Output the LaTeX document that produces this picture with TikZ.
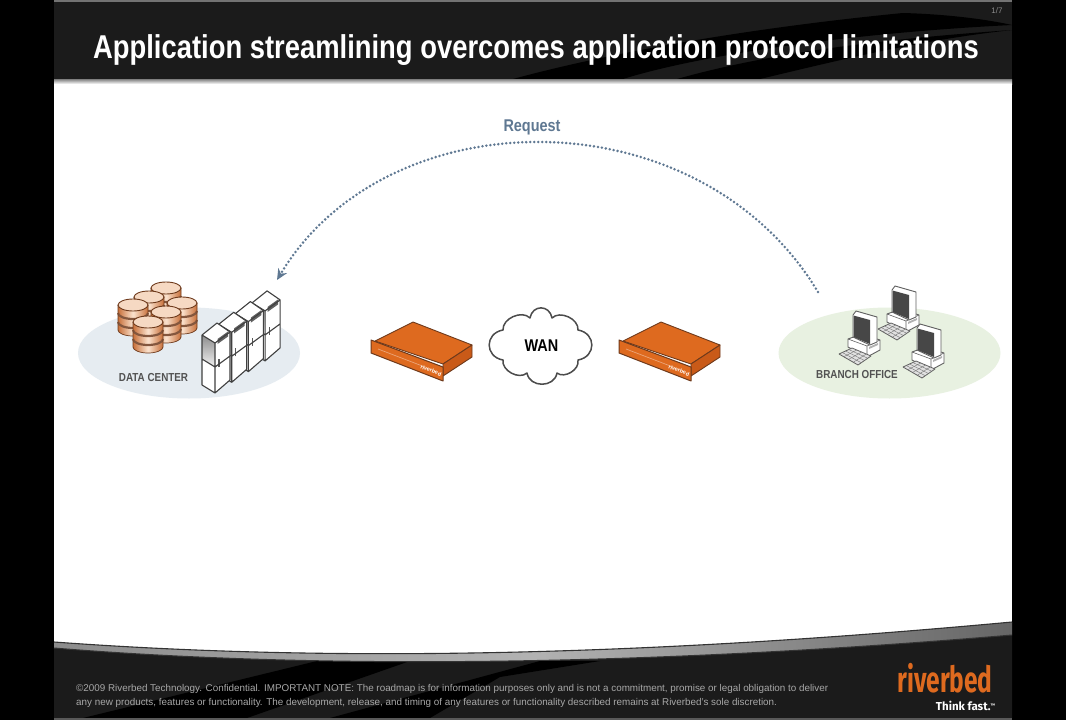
\documentclass[tikz,border=0pt]{standalone}
\usepackage{fontspec}
\setmainfont{Liberation Sans}
\newfontfamily\narrowtitle[FakeStretch=0.83]{Liberation Sans}
\newfontfamily\narrowlabel[FakeStretch=0.85]{Liberation Sans}
\newfontfamily\logofont[FakeStretch=0.68]{Fira Sans}
\newfontfamily\fastfont{Fira Sans}
\usetikzlibrary{arrows.meta,shapes.geometric,calc}
\definecolor{bar}{HTML}{1B1B1B}
\definecolor{arrowblue}{HTML}{5F7892}
\definecolor{rborange}{HTML}{DE6A1F}
\definecolor{rbside}{HTML}{C95A18}
\definecolor{rbdark}{HTML}{6E3A1C}
\definecolor{footgray}{HTML}{A8A8A8}
\definecolor{dcfill}{HTML}{E6ECF1}
\definecolor{brfill}{HTML}{E8F1E1}
\definecolor{cylside}{HTML}{C8703A}
\definecolor{cylmid}{HTML}{FBE3CF}
\definecolor{cyltop}{HTML}{F6D9C3}
\tikzset{
  x=1pt,y=-1pt,
  band/.style={fill=black,draw=none},
  sitelabel/.style={font=\narrowlabel\bfseries\fontsize{11.6}{13}\selectfont,text=black!68,inner sep=0pt},
  footline/.style={font=\fontsize{9.85}{12}\selectfont,text=footgray,inner sep=0pt,anchor=west},
  pics/dbcyl/.style={code={
    \path[shading=axis,shading angle=90,left color=cylside,right color=cylside,middle color=cylmid]
      (-15,0) -- (-15,25) arc[start angle=180,end angle=360,x radius=15,y radius=-6] -- (15,0) -- cycle;
    \draw[rbdark!85,line width=2.2] (-15,8) arc[start angle=180,end angle=360,x radius=15,y radius=-6];
    \draw[rbdark!85,line width=2.2] (-15,17) arc[start angle=180,end angle=360,x radius=15,y radius=-6];
    \draw[rbdark,line width=.7] (-15,0) -- (-15,25) arc[start angle=180,end angle=360,x radius=15,y radius=-6] -- (15,0);
    \draw[rbdark,line width=.9,fill=cyltop] (0,0) ellipse[x radius=15,y radius=6];
  }},
  pics/tower/.style={code={
    \fill[white] (0,0) -- (13,8) -- (28,-3) -- (15,-12) -- cycle;
    \fill[white] (13,8) -- (28,-3) -- (28,45) -- (13,58) -- cycle;
    \path[shade,shading=axis,top color=black!45,bottom color=black!5] (0,0) -- (13,8) -- (13,32) -- (0,24) -- cycle;
    \fill[white] (0,24) -- (13,32) -- (13,58) -- (0,50) -- cycle;
    \fill[black!62] (15.5,4) -- (26,-3.5) -- (26,1.5) -- (15.5,9) -- cycle;
    \draw[black!65,line width=1.2] (17,32) -- (17,24);
    \draw[black!75,line width=1.1,line join=round] (0,0) -- (13,8) -- (28,-3) -- (15,-12) -- cycle
      (0,0) -- (0,50) -- (13,58) -- (28,45) -- (28,-3) (13,8) -- (13,58)
      (0,24) -- (13,32) -- (28,21);
  }},
  pics/computer/.style={code={
    \draw[black!62,fill=white,line width=.9,line join=round] (-4,27) -- (10,22) -- (28,28) -- (28,38) -- (15,45) -- (-4,35) -- cycle;
    \draw[black!62,line width=.6] (-4,27) -- (15,34) -- (28,28) (15,34) -- (15,45);
    \fill[black!30] (17,35) -- (26,31) -- (26,33) -- (17,37) -- cycle;
    \draw[black!62,fill=black!12,line width=.8,line join=round] (-13,42) -- (0,36) -- (19,44) -- (6,53) -- cycle;
    \foreach \t in {.25,.5,.75}{
      \draw[black!55,line width=.4] ($(-13,42)!\t!(0,36)$) -- ($(6,53)!\t!(19,44)$);
      \draw[black!55,line width=.4] ($(-13,42)!\t!(6,53)$) -- ($(0,36)!\t!(19,44)$);
    }
    \draw[black!62,fill=white,line width=.9,line join=round] (1,3) -- (4,-1) -- (25,5) -- (25,30) -- (18,33) -- (1,25) -- cycle;
    \fill[black!72] (1.5,3.5) -- (18,8) -- (18,32) -- (1.5,25) -- cycle;
  }},
  pics/appliance/.style={code={
    \draw[rbdark,fill=rborange,line width=.9,line join=round] (375,341) -- (413,322) -- (472,345) -- (443,364) -- cycle;
    \draw[rbdark,fill=rbside,line width=.9,line join=round] (443,364) -- (472,345) -- (472,357) -- (443,376) -- cycle;
    \draw[rbdark,fill=rborange,line width=1,line join=round] (371,340) -- (443,367) -- (443,381) -- (371,353) -- cycle;
    \draw[rborange!60!white,line width=.7] (378,349) -- (425,367);
    \node[text=white,font=\bfseries\fontsize{5.5}{6}\selectfont,rotate=-21,inner sep=0pt] at (431,370.5) {riverbed};
  }}
}
\begin{document}
\begin{tikzpicture}
\useasboundingbox (0,0) rectangle (1066,720);
\fill[black] (0,0) rectangle (1066,720);
\fill[white] (54,80) rectangle (1012,720);
% header
\fill[black!55] (54,0) rectangle (1012,2);
\fill[bar] (54,2) rectangle (1012,79);
\fill[band] (513,79) -- (623,79) .. controls (700,55) and (850,33) .. (1012,25) .. controls (980,18) and (940,14) .. (903,13) .. controls (760,27) and (620,50) .. cycle;
\fill[band] (677,79) -- (760,79) .. controls (840,60) and (920,40) .. (1012,30) .. controls (900,38) and (780,50) .. cycle;
\shade[top color=black!50,bottom color=white] (54,79) rectangle (1012,84);
% footer
\fill[bar] (54,648) .. controls (300,668) and (620,668) .. (1012,635) -- (1012,718) -- (54,718) -- cycle;
\fill[band] (317,661) -- (410,661) -- (247,718) -- (83,718) -- cycle;
\fill[band] (540,661) -- (600,661) -- (500,677) -- (430,718) -- (330,718) -- cycle;
\fill[black!65] (54,718) rectangle (1012,720);
\path[shade,left color=black!45,right color=black!60,middle color=black!30]
  (54,642) .. controls (300,660) and (600,660) .. (1012,622) -- (1012,635) .. controls (620,668) and (300,668) .. (54,648) -- cycle;
\draw[black!80,line width=1.1] (54,642) .. controls (300,660) and (600,660) .. (1012,622);
\draw[black!80,line width=1] (54,648) .. controls (300,668) and (620,668) .. (1012,635);
% sites
\node (dc) [draw=none,fill=dcfill,ellipse,minimum width=222,minimum height=91,inner sep=0pt] at (189,353) {};
\node (branch) [draw=none,fill=brfill,ellipse,minimum width=222,minimum height=91,inner sep=0pt] at (889.5,353) {};
\foreach \cx/\cy in {166/288,149/297,133/305,182/303,166/312,148/322}{
  \pic at (\cx,\cy) {dbcyl};
}
\foreach \ox/\oy in {50.1/-32.1,33.4/-21.4,16.7/-10.7,0/0}{
  \pic at (202+\ox,335+\oy) {tower};
}
\foreach \cx/\cy in {891/287,852/312,916/325}{
  \pic at (\cx,\cy) {computer};
}
\node (dclabel) [sitelabel] at (153.5,378) {DATA CENTER};
\node (brlabel) [sitelabel] at (857,375) {BRANCH OFFICE};
% appliances
\pic at (0,0) {appliance};
\pic at (248,0) {appliance};
% cloud
\draw[black!70,fill=white,line width=1.5,line join=round]
  (530,318) to[bend left=80,looseness=1.6] (552,318) to[bend left=70] (578,330) to[bend left=80,looseness=1.6] (578,360)
  to[bend left=70] (557,373) to[bend left=80,looseness=1.3] (527,373) to[bend left=70] (503,360) to[bend left=80,looseness=1.6] (503,330) to[bend left=70] (530,318) -- cycle;
\node (wan) [font=\narrowlabel\bfseries\fontsize{17}{18}\selectfont,inner sep=0pt] at (541.5,346) {WAN};
% title
\node (title) [text=white,font=\narrowtitle\bfseries\fontsize{33}{35}\selectfont,inner sep=0pt] at (536,50) {Application streamlining overcomes application protocol limitations};
\node (page) [text=black!45,font=\fontsize{8}{9}\selectfont,inner sep=0pt] at (997,11) {1/7};
% request arrow
\node (request) [text=arrowblue,font=\narrowlabel\bfseries\fontsize{17}{18}\selectfont,inner sep=0pt] at (532,127) {Request};
\coordinate (from) at (818,292);
\coordinate (to) at (277,280);
\draw[arrowblue,line width=2.8,line cap=round,dash pattern=on 0pt off 4pt,-{Stealth[length=11pt,width=10pt]}]
  (from) .. controls (700,95) and (388,95) .. (to);
% footer text
\node (note1) [footline] at (76,689) {©2009 Riverbed Technology. Confidential. IMPORTANT NOTE: The roadmap is for information purposes only and is not a commitment, promise or legal obligation to deliver};
\node (note2) [footline] at (76,703) {any new products, features or functionality.  The development, release, and timing of any features or functionality described remains at Riverbed's sole discretion.};
% logo
\node (logo) [text=rborange,font=\logofont\bfseries\fontsize{36}{38}\selectfont,inner sep=0pt] at (945,678) {riverbed};
\node (think) [text=white,font=\fastfont\bfseries\fontsize{11.5}{13}\selectfont,inner sep=0pt] at (965.5,706) {Think fast.\raisebox{3pt}{\fontsize{5}{5}\selectfont ™}};
\end{tikzpicture}
\end{document}
